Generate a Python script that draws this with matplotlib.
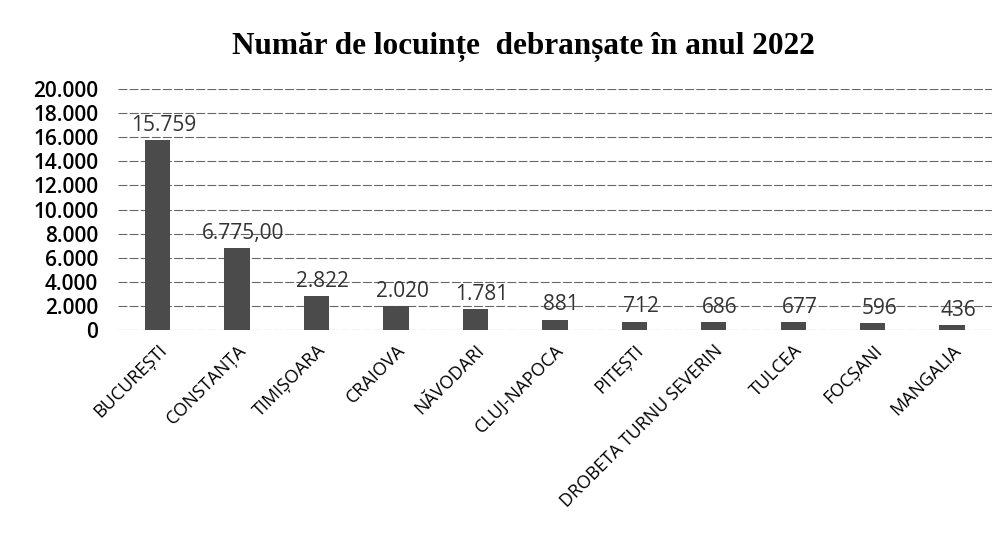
import matplotlib.pyplot as plt
from matplotlib.ticker import FuncFormatter

cities = ["BUCUREȘTI", "CONSTANȚA", "TIMIȘOARA", "CRAIOVA", "NĂVODARI",
          "CLUJ-NAPOCA", "PITEȘTI", "DROBETA TURNU SEVERIN", "TULCEA",
          "FOCȘANI", "MANGALIA"]
values = [15759, 6775, 2822, 2020, 1781, 881, 712, 686, 677, 596, 436]
labels = ["15.759", "6.775,00", "2.822", "2.020", "1.781", "881", "712",
          "686", "677", "596", "436"]
yticks = list(range(0, 20001, 2000))

fig = plt.figure(figsize=(10.06, 5.55), dpi=100)
ax = fig.add_axes([0.117, 0.405, 0.869, 0.435])

x = range(len(cities))
ax.bar(x, values, width=0.32, color="#4b4b4b", zorder=3)

for i, (v, lab) in enumerate(zip(values, labels)):
    ax.text(i + 0.08, v + 350, lab, ha="center", va="bottom",
            fontsize=15, family="Open Sans", color="#333333", zorder=4)

ax.set_ylim(0, 20000)
ax.set_xlim(-0.5, len(cities) - 0.5)
ax.set_yticks(yticks)
ax.yaxis.set_major_formatter(FuncFormatter(lambda v, p: f"{int(v):,}".replace(",", ".")))
ax.grid(axis="y", color="#666666", linestyle=(0, (8, 2)), linewidth=0.8, zorder=0)
ax.set_xticks(list(x))
ax.set_xticklabels(cities, rotation=45, ha="right", rotation_mode="anchor",
                   fontsize=13, family="Open Sans")
for t in ax.get_yticklabels():
    t.set_fontsize(15)
    t.set_family("Open Sans")
    t.set_fontweight("semibold")
ax.tick_params(length=0, pad=14)
ax.tick_params(axis="x", pad=8)
for s in ax.spines.values():
    s.set_visible(False)

fig.text(0.52, 0.915, "Număr de locuințe  debranșate în anul 2022",
         ha="center", va="center", fontsize=22.5, fontweight="bold",
         family="Liberation Serif")

fig.savefig("out.png", dpi=100)
